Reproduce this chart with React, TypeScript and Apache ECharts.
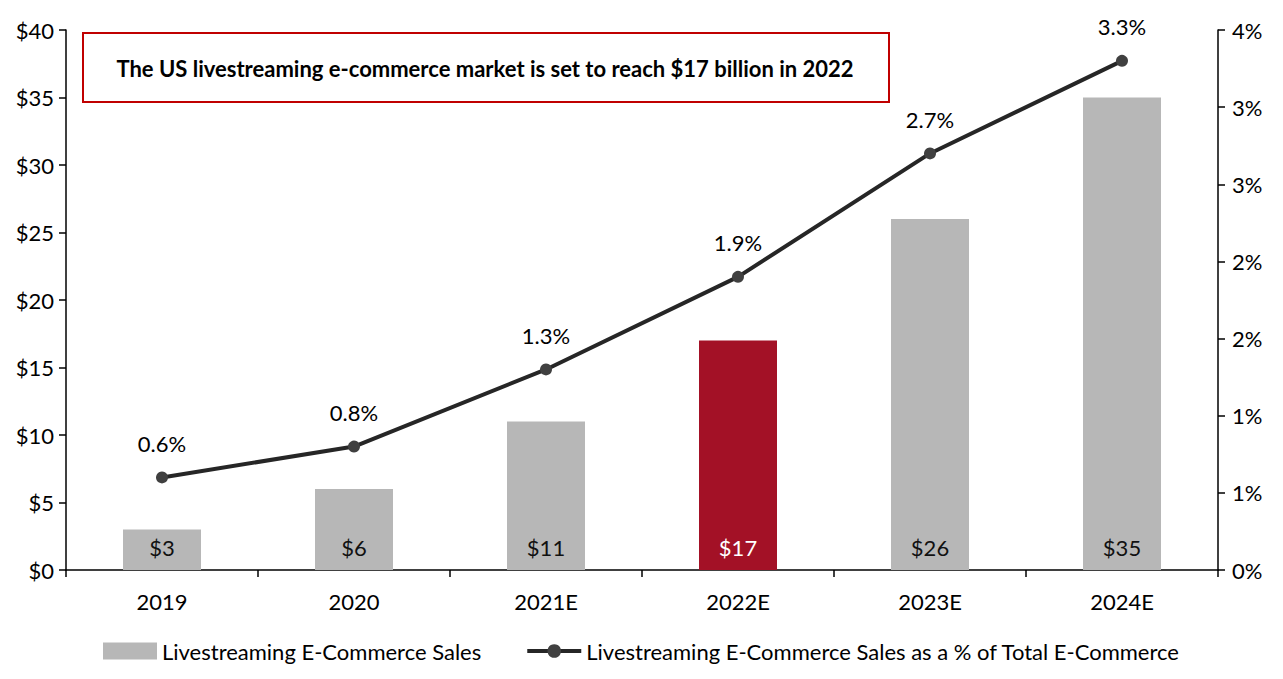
import React, { useEffect, useRef } from "react";
import * as echarts from "echarts";

const categories = ["2019", "2020", "2021E", "2022E", "2023E", "2024E"];
const salesValues = [3, 6, 11, 17, 26, 35];
const pctValues = [0.6, 0.8, 1.3, 1.9, 2.7, 3.3];
const leftTickLabels = ["$0", "$5", "$10", "$15", "$20", "$25", "$30", "$35", "$40"];
const rightTickLabels = ["0%", "1%", "1%", "2%", "2%", "3%", "3%", "4%"];
const highlightCategory = "2022E";
const barName = "Livestreaming E-Commerce Sales";
const lineName = "Livestreaming E-Commerce Sales as a % of Total E-Commerce";
const titleText = "The US livestreaming e-commerce market is set to reach $17 billion in 2022";

const FONT = "Lato";
const FS = 22;
const GRAY = "#b7b7b7";
const RED = "#a31126";

export default function App() {
  const ref = useRef<HTMLDivElement>(null);
  useEffect(() => {
    if (!ref.current) return;
    const chart = echarts.init(ref.current, null, { renderer: "svg" });
    const barData = salesValues.map((v, i) =>
      categories[i] === highlightCategory
        ? { value: v, itemStyle: { color: RED }, label: { color: "#ffffff" } }
        : { value: v }
    );
    chart.setOption({
      animation: false,
      textStyle: { fontFamily: FONT },
      grid: { left: 66, right: 65, top: 30, bottom: 109, containLabel: false },
      legend: {
        bottom: 12,
        left: "center",
        itemWidth: 54,
        itemHeight: 17,
        itemGap: 44,
        textStyle: { fontSize: FS, color: "#000", fontFamily: FONT },
        data: [
          { name: barName, icon: "rect" },
          { name: lineName, lineStyle: { width: 4, color: "#262626" }, itemStyle: { color: "#404040" } },
        ],
      },
      xAxis: {
        type: "category",
        data: categories,
        axisLine: { lineStyle: { color: "#000", width: 1.5 } },
        axisTick: { show: true, length: 7, lineStyle: { color: "#000", width: 1.5 } },
        axisLabel: { fontSize: FS, color: "#000", margin: 20, fontFamily: FONT },
      },
      yAxis: [
        {
          type: "value",
          min: 0,
          max: 40,
          interval: 5,
          splitLine: { show: false },
          axisLine: { show: true, lineStyle: { color: "#000", width: 1.5 } },
          axisTick: { show: true, length: 7, lineStyle: { color: "#000", width: 1.5 } },
          axisLabel: {
            fontSize: FS,
            color: "#000",
            margin: 12,
            fontFamily: FONT,
            formatter: (v: number) => leftTickLabels[Math.round(v / 5)] ?? "",
          },
        },
        {
          type: "value",
          min: 0,
          max: 3.5,
          interval: 0.5,
          position: "right",
          splitLine: { show: false },
          axisLine: { show: true, lineStyle: { color: "#000", width: 1.5 } },
          axisTick: { show: true, length: 7, lineStyle: { color: "#000", width: 1.5 } },
          axisLabel: {
            fontSize: FS,
            color: "#000",
            margin: 14,
            fontFamily: FONT,
            formatter: (v: number) => rightTickLabels[Math.round(v / 0.5)] ?? "",
          },
        },
      ],
      series: [
        {
          name: barName,
          type: "bar",
          data: barData,
          barWidth: 78,
          itemStyle: { color: GRAY },
          label: {
            show: true,
            position: "insideBottom",
            distance: 12,
            fontSize: FS,
            color: "#111",
            fontFamily: FONT,
            formatter: (p: any) => "$" + p.value,
          },
        },
        {
          name: lineName,
          type: "line",
          yAxisIndex: 1,
          data: pctValues,
          symbol: "circle",
          symbolSize: 12,
          lineStyle: { color: "#262626", width: 4 },
          itemStyle: { color: "#404040" },
          label: {
            show: true,
            position: "top",
            distance: 17,
            fontSize: FS,
            color: "#000",
            fontFamily: FONT,
            formatter: (p: any) => p.value.toFixed(1) + "%",
          },
          z: 5,
        },
      ],
      graphic: [
        {
          type: "rect",
          left: 82,
          top: 32,
          shape: { width: 806, height: 69 },
          style: { fill: "#fff", stroke: "#c00000", lineWidth: 2 },
          z: 10,
        },
        {
          type: "text",
          x: 485,
          y: 68,
          z: 11,
          style: {
            text: titleText,
            fontSize: FS,
            fontWeight: "bold",
            fontFamily: FONT,
            fill: "#000",
            align: "center",
            verticalAlign: "middle",
          },
        },
      ],
    });
    return () => chart.dispose();
  }, []);
  return <div ref={ref} style={{ width: 1283, height: 679, margin: -8 }} />;
}
